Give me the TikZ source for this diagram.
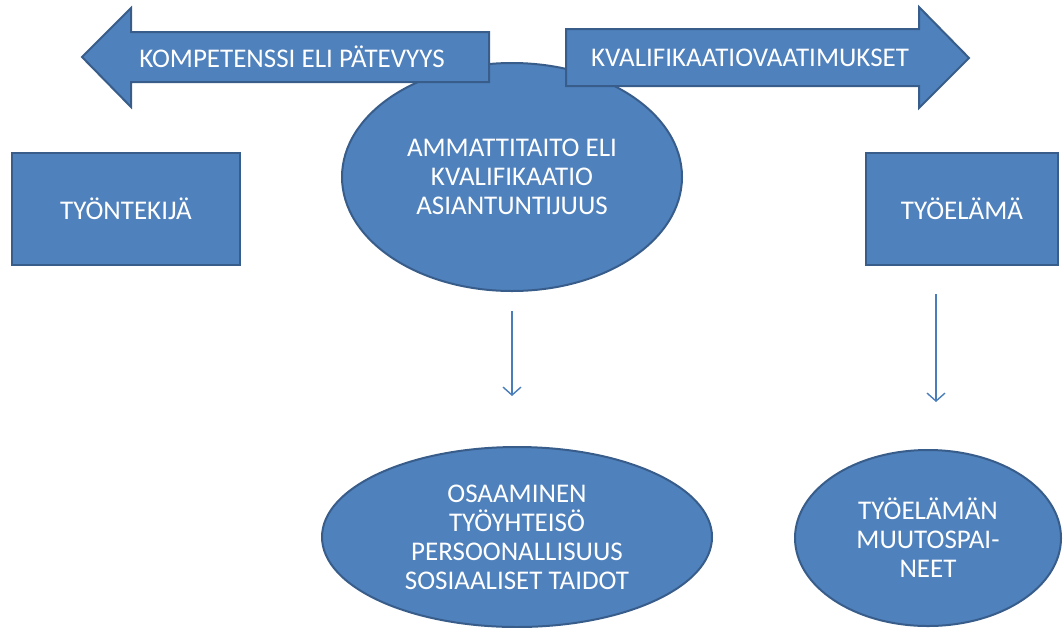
\documentclass[tikz,border=0pt]{standalone}
\usepackage{fontspec}
\setmainfont{Carlito}
\usetikzlibrary{arrows.meta,shapes.geometric}
\definecolor{kvblue}{HTML}{4F81BD}
\definecolor{kvedge}{HTML}{385D8A}
\definecolor{kvthin}{HTML}{4A7EBB}

\begin{document}
\begin{tikzpicture}[
  x=0.5pt, y=-0.5pt,
  font=\fontsize{13.5}{14.5}\selectfont,
  blk/.style={draw=kvedge, fill=kvblue, line width=1pt},
  box/.style={blk, rectangle, text=white, align=center, inner sep=0pt},
  oval/.style={blk, ellipse, text=white, align=center, inner sep=0pt},
  lbl/.style={text=white, align=center, inner sep=0pt},
  thinarr/.style={-{Straight Barb[length=4pt,width=9pt]}, draw=kvthin, line width=0.7pt}
]
\useasboundingbox (0,0) rectangle (1064,627);

\node[oval, minimum width=170pt, minimum height=114pt] (amm) at (512,177)
  {AMMATTITAITO ELI\\KVALIFIKAATIO\\ASIANTUNTIJUUS};

% top arrows lie over the oval
\draw[blk] (82,57) -- (131,8) -- (131,32) -- (489,32) -- (489,82) -- (131,82) -- (131,107) -- cycle;
\node[lbl] (komp) at (292,57) {KOMPETENSSI ELI PÄTEVYYS};
\draw[blk] (969,58) -- (919,7) -- (919,29) -- (566,29) -- (566,86) -- (919,86) -- (919,108) -- cycle;
\node[lbl] (kval) at (750,58) {KVALIFIKAATIOVAATIMUKSET};

\node[box, minimum width=114pt, minimum height=56pt] (tyontekija) at (126,209) {TYÖNTEKIJÄ};
\node[box, minimum width=96pt, minimum height=56pt] (tyoelama) at (962,209) {TYÖELÄMÄ};

\node[oval, minimum width=195pt, minimum height=90pt] (osaaminen) at (517,537)
  {OSAAMINEN\\TYÖYHTEISÖ\\PERSOONALLISUUS\\SOSIAALISET TAIDOT};
\node[oval, minimum width=133pt, minimum height=88pt] (muutos) at (928,538)
  {TYÖELÄMÄN\\MUUTOSPAI-\\NEET};

\draw[thinarr, shorten <=9.5pt, shorten >=25pt] (amm.south) -- (amm.south |- osaaminen.north);
\draw[thinarr, shorten <=14pt, shorten >=23.5pt] ([xshift=-13pt]tyoelama.south) -- ([xshift=4pt]muutos.north);
\end{tikzpicture}
\end{document}
